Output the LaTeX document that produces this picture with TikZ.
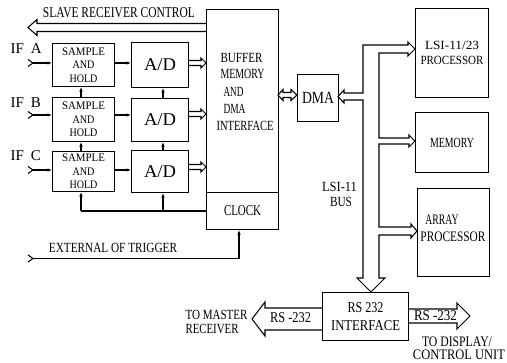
\documentclass[tikz,border=0pt]{standalone}
\usepackage{fontspec}
\setmainfont{Liberation Serif}
\usepackage{graphicx}
\usetikzlibrary{arrows.meta}
\newcommand\sx[2]{\resizebox{#1pt}{\height}{#2}}
\newcommand\fs[1]{\fontsize{#1}{#1}\selectfont}
% hollow horizontal arrow: tail x, tip x, centre y, shaft half, head half, signed head length
\newcommand\hollow[6]{\draw (#1,{#3-#4}) -- ({#2-(#6)},{#3-#4}) -- ({#2-(#6)},{#3-#5}) -- (#2,#3) -- ({#2-(#6)},{#3+#5}) -- ({#2-(#6)},{#3+#4}) -- (#1,{#3+#4});}
\begin{document}
\begin{tikzpicture}[x=1pt,y=-1pt, line width=1.05pt, line join=miter,
  box/.style={draw, inner sep=0pt, anchor=north west},
  lbl/.style={inner sep=0pt},
  sarr/.style={-{Latex[length=4.5pt,width=3.6pt]}}]
\useasboundingbox (0,0) rectangle (507,363);

% boxes
\node[box, minimum width=62pt, minimum height=43pt, align=center, font={\fontsize{11.5}{13.5}\selectfont}] (saA) at (52,43) {\sx{43}{SAMPLE}\\\sx{22}{AND}\\\sx{28}{HOLD}};
\node[box, minimum width=62pt, minimum height=44pt, align=center, font={\fontsize{11.5}{13.5}\selectfont}] (saB) at (52,97) {\sx{43}{SAMPLE}\\\sx{22}{AND}\\\sx{28}{HOLD}};
\node[box, minimum width=62pt, minimum height=40pt, align=center, font={\fontsize{11.5}{13.5}\selectfont}] (saC) at (52,151) {\sx{43}{SAMPLE}\\\sx{22}{AND}\\\sx{28}{HOLD}};
\node[box, minimum width=57pt, minimum height=45pt, font=\fs{18}] (adA) at (131,42) {\sx{32}{A/D}};
\node[box, minimum width=57pt, minimum height=43pt, font=\fs{18}] (adB) at (131,98) {\sx{32}{A/D}};
\node[box, minimum width=57pt, minimum height=42pt, font=\fs{18}] (adC) at (131,150) {\sx{32}{A/D}};
\node[box, minimum width=72pt, minimum height=183pt] (buf) at (206,9) {};
\node[box, minimum width=72pt, minimum height=37pt, font=\fs{15}] (clk) at (206,192) {\sx{37}{CLOCK}};
\node[box, minimum width=41pt, minimum height=47pt, font=\fs{17}] (dma) at (297,74) {\sx{32}{DMA}};
\node[box, minimum width=73pt, minimum height=89pt, align=center, font={\fontsize{12.5}{15}\selectfont}] (proc) at (415,8) {\sx{54}{LSI-11/23}\\\sx{63}{PROCESSOR}};
\node[box, minimum width=73pt, minimum height=60pt, font=\fs{14}] (mem) at (415,112) {\sx{44}{MEMORY}};
\node[box, minimum width=72pt, minimum height=88pt] (arr) at (417,188) {};
\node[box, minimum width=86pt, minimum height=48pt, align=center, font={\fontsize{15}{18}\selectfont}] (rs) at (322,292) {\sx{36}{RS 232}\\\sx{69}{INTERFACE}};

% buffer text
\node[lbl, font=\fs{14}, anchor=west] (b1) at (220,57.5) {\sx{42}{BUFFER}};
\node[lbl, font=\fs{14}, anchor=west] (b2) at (220,74) {\sx{44}{MEMORY}};
\node[lbl, font=\fs{14}, anchor=west] (b3) at (223,92) {\sx{20}{AND}};
\node[lbl, font=\fs{14}, anchor=west] (b4) at (223,109) {\sx{22}{DMA}};
\node[lbl, font=\fs{14}, anchor=west] (b5) at (216,126) {\sx{57}{INTERFACE}};
\node[lbl, font={\fontsize{14.5}{17}\selectfont}, align=left] (arrT) at (453,228.5) {\hspace{5pt}\sx{33}{ARRAY}\\\sx{65}{PROCESSOR}};

% labels
\node[lbl, font=\fs{15}] (slv) at (119,13) {\sx{152}{SLAVE RECEIVER CONTROL}};
\node[lbl, font=\fs{15}, anchor=west] (ifA) at (10,48.5) {IF\hspace{7pt}A};
\node[lbl, font=\fs{15}, anchor=west] (ifB) at (10,102.5) {IF\hspace{7pt}B};
\node[lbl, font=\fs{15}, anchor=west] (ifC) at (10,156) {IF\hspace{7pt}C};
\node[lbl, font=\fs{14}] (extT) at (113,247.5) {\sx{128}{EXTERNAL OF TRIGGER}};
\node[lbl, font=\fs{14}] (bus1) at (339.5,187) {\sx{35}{LSI-11}};
\node[lbl, font=\fs{14}] (bus2) at (341,202) {\sx{22}{BUS}};
\node[lbl, font=\fs{15}] (rsl) at (290.5,318) {\sx{41}{RS -232}};
\node[lbl, font=\fs{15}] (rsr) at (435.5,316) {\sx{43}{RS -232}};
\node[lbl, font=\fs{14}, anchor=west] (tm1) at (185,315) {\sx{62}{TO MASTER}};
\node[lbl, font=\fs{14}, anchor=west] (tm2) at (185,329) {\sx{53}{RECEIVER}};
\node[lbl, font=\fs{14.5}] (td1) at (457,342) {\sx{70}{TO DISPLAY/}};
\node[lbl, font=\fs{14.5}] (td2) at (459,355) {\sx{92}{CONTROL UNIT}};

% inputs
\coordinate (inA) at (33,63);
\coordinate (inB) at (33,115);
\coordinate (inC) at (33,170);
\foreach \i/\s/\a in {inA/saA/adA, inB/saB/adB, inC/saC/adC}{
  \draw ([shift={(-5,-3.5)}]\i) -- (\i) -- ([shift={(-5,3.5)}]\i);
  \draw[sarr] (\i) -- (\i -| \s.west);
  \draw[sarr] (\i -| \s.east) -- (\i -| \a.west);
}

% vertical clock distribution
\coordinate (vS) at (81,0);
\coordinate (vD) at (163,0);
\draw[sarr] (vS |- saB.north) -- (vS |- saA.south);
\draw[sarr] (vS |- saC.north) -- (vS |- saB.south);
\draw[sarr] (vD |- adB.north) -- (vD |- adA.south);
\draw[sarr] (vD |- adC.north) -- (vD |- adB.south);
\draw (clk.west) -- (clk.west -| vS);
\draw[sarr] (clk.west -| vS) -- (vS |- saC.south);
\draw[sarr] (clk.west -| vD) -- (vD |- adC.south);

% external trigger
\coordinate (ext) at (33,258.5);
\coordinate (vT) at (239,0);
\draw ([shift={(-5,-3.5)}]ext) -- (ext) -- ([shift={(-5,3.5)}]ext);
\draw[sarr] (ext) -- (ext -| vT) -- (vT |- clk.south);

% hollow arrows
\hollow{206}{28}{27.5}{4}{8}{-9}
\hollow{188}{206}{63}{2.5}{5}{5}
\hollow{188}{206}{114}{2.5}{5}{5}
\hollow{188}{206}{167}{2.5}{5}{5}
\hollow{322}{252}{319}{11}{17}{-13}
\hollow{408}{470}{316}{7}{13}{13}
% buffer <-> DMA
\draw (283,92.5) -- (291,92.5) -- (291,89.5) -- (297,95) -- (291,100.5) -- (291,97.5) -- (283,97.5) -- (283,100.5) -- (278,95) -- (283,89.5) -- cycle;

% LSI-11 bus
\draw (408,45) -- (363,45) -- (363,93) -- (344,93) -- (344,90) -- (338,96.5) -- (344,103) -- (344,100) -- (363,100) -- (363,278) -- (357,278) -- (371,292) -- (385,278) -- (379,278) -- (379,235) -- (411,235) -- (411,238) -- (417,231) -- (411,224) -- (411,227) -- (379,227) -- (379,144) -- (409,144) -- (409,147) -- (415,141) -- (409,135) -- (409,138) -- (379,138) -- (379,53) -- (408,53) -- (408,56) -- (415,49) -- (408,42) -- cycle;
\end{tikzpicture}
\end{document}
